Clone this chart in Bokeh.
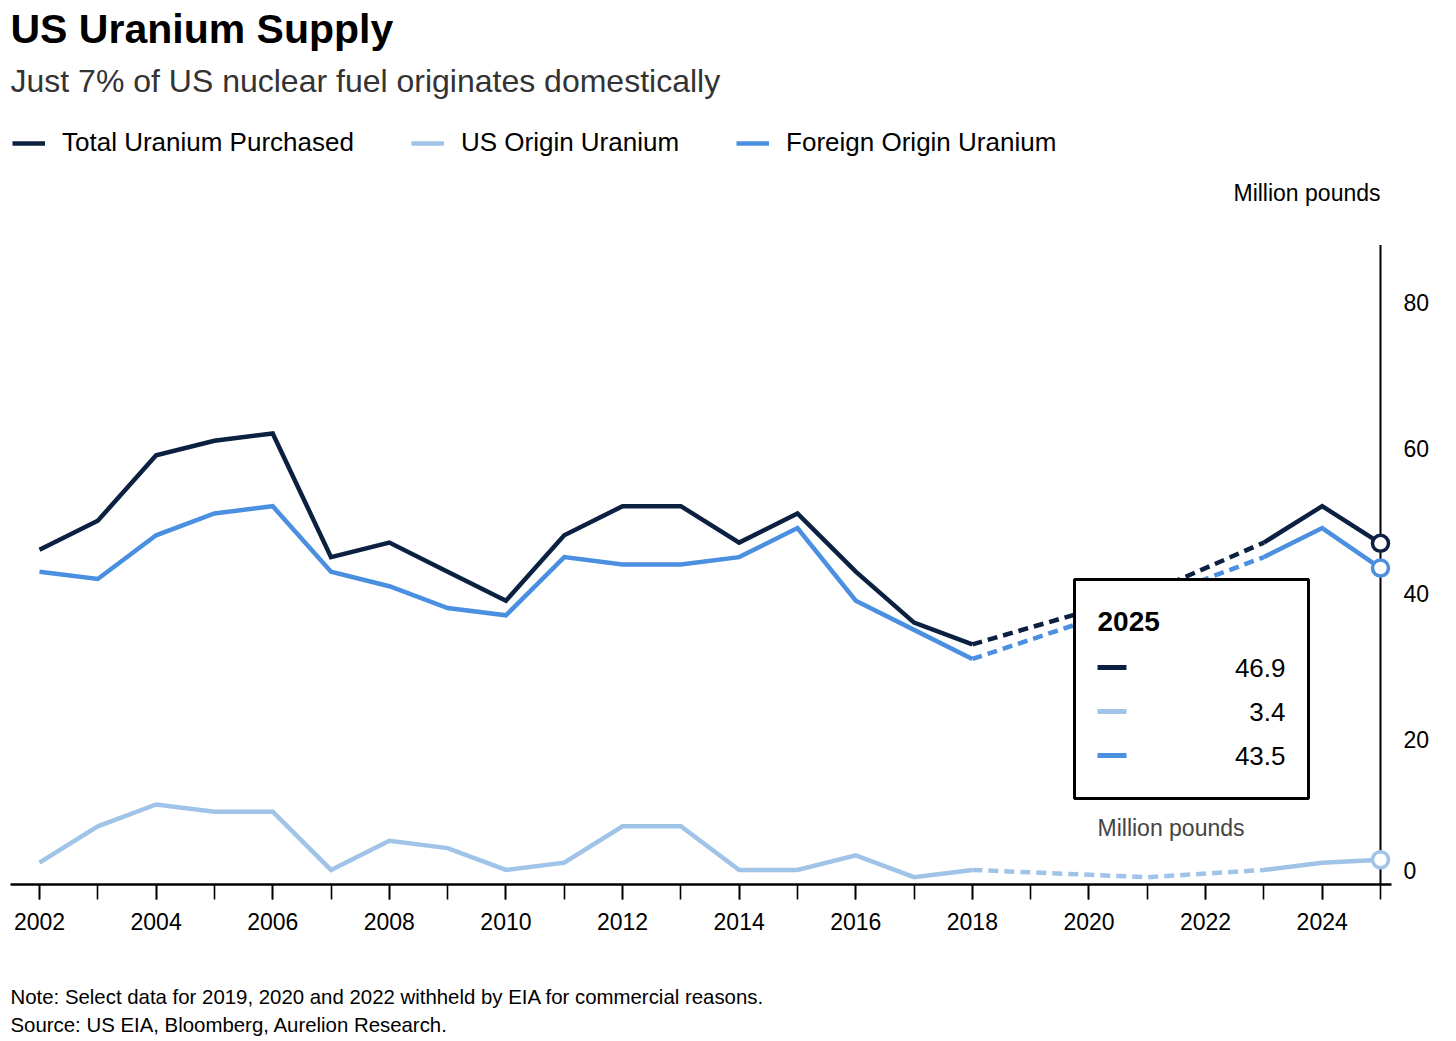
from bokeh.plotting import figure
from bokeh.layouts import column
from bokeh.models import (FixedTicker, Label, BoxAnnotation, Legend, LegendItem,
                          ColumnDataSource, Range1d)
from bokeh.embed import file_html
from bokeh.resources import INLINE

# ---------------- data (million pounds) ----------------
years = [2002, 2003, 2004, 2005, 2006, 2007, 2008, 2009, 2010, 2011, 2012,
         2013, 2014, 2015, 2016, 2017, 2018, 2021, 2023, 2024, 2025]
total = [46.0, 50.0, 59.0, 61.0, 62.0, 45.0, 47.0, 43.0, 39.0, 48.0, 52.0,
         52.0, 47.0, 51.0, 43.0, 36.0, 33.0, 40.0, 47.0, 52.0, 46.9]
us_origin = [3.0, 8.0, 11.0, 10.0, 10.0, 2.0, 6.0, 5.0, 2.0, 3.0, 8.0,
             8.0, 2.0, 2.0, 4.0, 1.0, 2.0, 1.0, 2.0, 3.0, 3.4]
foreign = [43.0, 42.0, 48.0, 51.0, 52.0, 43.0, 41.0, 38.0, 37.0, 45.0, 44.0,
           44.0, 45.0, 49.0, 39.0, 35.0, 31.0, 39.0, 45.0, 49.0, 43.5]
withheld_years = [2019, 2020, 2022]

series_names = ["Total Uranium Purchased", "US Origin Uranium", "Foreign Origin Uranium"]
x_tick_years = list(range(2002, 2026, 2))
x_minor_years = list(range(2002, 2026))
y_ticks = [20, 40, 60, 80]
y_axis_top = 87.9

title_text = "US Uranium Supply"
subtitle_text = "Just 7% of US nuclear fuel originates domestically"
unit_text = "Million pounds"
note_text = "Note: Select data for 2019, 2020 and 2022 withheld by EIA for commercial reasons."
source_text = "Source: US EIA, Bloomberg, Aurelion Research."

# ---------------- styling / layout ----------------
FONT = "Liberation Sans"
COLORS = ["#0c2142", "#9fc4e8", "#4a8fe0"]
LW = 4.5
W = 1456
MAIN_H = 960
FOOT_H = 1041 - MAIN_H
FRAME_L, FRAME_R, FRAME_T, FRAME_B = 10, 1391, 0, 884     # page pixels
PX_YEAR = (1380 - 39) / 23.0
PX_UNIT = 145.5 / 20.0
X0 = 2002 - (39 - FRAME_L) / PX_YEAR
X1 = 2025 + (FRAME_R - 1380) / PX_YEAR
Y1 = (FRAME_B - FRAME_T) / PX_UNIT


def dx(px):
    return X0 + (px - FRAME_L) / PX_YEAR


def dy(py):
    return (FRAME_B - py) / PX_UNIT


p = figure(width=W, height=MAIN_H, output_backend="svg", toolbar_location=None,
           x_range=Range1d(X0, X1), y_range=Range1d(0, Y1),
           y_axis_location="right",
           min_border_left=FRAME_L, min_border_right=W - FRAME_R,
           min_border_top=FRAME_T, min_border_bottom=MAIN_H - FRAME_B)
p.outline_line_color = None
p.grid.visible = False
p.background_fill_color = "white"
p.border_fill_color = "white"

# ---------- axes ----------
xa = p.xaxis[0]
xa.ticker = FixedTicker(ticks=x_tick_years, minor_ticks=x_minor_years)
xa.axis_line_width = 2.5
xa.axis_line_color = "black"
xa.major_tick_out = 15
xa.major_tick_in = 0
xa.minor_tick_out = 15
xa.minor_tick_in = 0
xa.major_tick_line_width = 1.6
xa.minor_tick_line_width = 1.6
xa.major_tick_line_color = "black"
xa.minor_tick_line_color = "black"
xa.major_label_standoff = 13
xa.major_label_text_font = FONT
xa.major_label_text_font_size = "23px"
xa.major_label_text_color = "black"

# the "0" label sits a little above the baseline in the original
zero_label_pos = (FRAME_B - 870) / PX_UNIT
ya = p.yaxis[0]
ya.ticker = FixedTicker(ticks=[zero_label_pos] + y_ticks)
ya.major_label_overrides = {zero_label_pos: "0"}
ya.axis_line_color = None
ya.major_tick_out = 0
ya.major_tick_in = 0
ya.minor_tick_out = 0
ya.minor_tick_in = 0
ya.major_label_standoff = 1403 - FRAME_R
ya.major_label_text_font = FONT
ya.major_label_text_font_size = "23px"
ya.major_label_text_color = "black"

# vertical value-axis line at the last year
p.segment(x0=[years[-1]], y0=[0], x1=[years[-1]], y1=[y_axis_top], line_color="black",
          line_width=2)

# ---------- lines ----------
gap_start = min(withheld_years) - 1
gap_end = max(withheld_years) + 1
solid_renderers = []
for vals, col in zip([total, us_origin, foreign], COLORS):
    a = [(x, v) for x, v in zip(years, vals) if x <= gap_start]
    d = [(x, v) for x, v in zip(years, vals) if gap_start <= x <= gap_end]
    b = [(x, v) for x, v in zip(years, vals) if x >= gap_end]
    r = p.line([t[0] for t in a], [t[1] for t in a], line_color=col, line_width=LW,
               line_join="miter")
    p.line([t[0] for t in d], [t[1] for t in d], line_color=col, line_width=LW,
           line_dash="10 6", line_join="miter")
    p.line([t[0] for t in b], [t[1] for t in b], line_color=col, line_width=LW,
           line_join="miter")
    solid_renderers.append(r)

# end markers
for vals, col in zip([total, us_origin, foreign], COLORS):
    p.scatter([years[-1]], [vals[-1]], size=16, fill_color="white", line_color=col,
              line_width=3.5)


def label(fig, text, x, y, size, align="left", color="black", bold=False):
    fig.add_layout(Label(x=x, y=y, text=text, text_align=align,
                         text_baseline="middle", text_font=FONT,
                         text_font_size=f"{size}px", text_color=color,
                         text_font_style="bold" if bold else "normal"))


def plabel(text, px, py, size, **kw):
    label(p, text, dx(px), dy(py), size, **kw)


# ---------- tooltip-like box ----------
p.add_layout(BoxAnnotation(left=dx(1074), right=dx(1308), top=dy(579), bottom=dy(798),
                           fill_color="white", fill_alpha=1.0, line_color="black",
                           line_alpha=1.0, line_width=3))
plabel(str(years[-1]), 1097, 621, 28, bold=True)
row_y = [667, 711, 755]
seg = ColumnDataSource(dict(x0=[dx(1097)] * 3, x1=[dx(1126)] * 3,
                            y=[dy(v) for v in row_y], c=COLORS))
sr = p.segment(x0="x0", y0="y", x1="x1", y1="y", line_color="c", line_width=5, source=seg)
sr.level = "overlay"
for vals, yy in zip([total, us_origin, foreign], row_y):
    plabel(f"{vals[-1]:.1f}", 1285, yy, 26, align="right")
plabel(unit_text, 1097, 827, 23, color="#444444")

# ---------- unit label, titles ----------
plabel(unit_text, 1380, 192, 23, align="right")
plabel(title_text, 10, 28, 41, bold=True)
plabel(subtitle_text, 10, 80, 32, color="#333333")

# ---------- legend ----------
legend = Legend(items=[LegendItem(label=n, renderers=[r]) for n, r in zip(series_names, solid_renderers)],
                orientation="horizontal", location=(2, FRAME_B - 158),
                glyph_width=33, glyph_height=20, label_standoff=17, spacing=57,
                padding=0, margin=0, label_text_font=FONT, label_text_font_size="26px",
                label_text_color="black", border_line_alpha=0, background_fill_alpha=0)
p.add_layout(legend)

# ---------- footer (notes) ----------
# same horizontal borders as the main chart so that both frames line up
f = figure(width=W, height=FOOT_H, output_backend="svg", toolbar_location=None,
           x_range=Range1d(FRAME_L, FRAME_R), y_range=Range1d(1041, MAIN_H),
           x_axis_location=None, y_axis_location=None,
           min_border_left=FRAME_L, min_border_right=W - FRAME_R,
           min_border_top=0, min_border_bottom=0)
f.outline_line_color = None
f.grid.visible = False
label(f, note_text, 10, 996, 20.4)
label(f, source_text, 10, 1024, 20.4)

layout = column(p, f, spacing=0)
open("out.html", "w").write(file_html(layout, INLINE))
